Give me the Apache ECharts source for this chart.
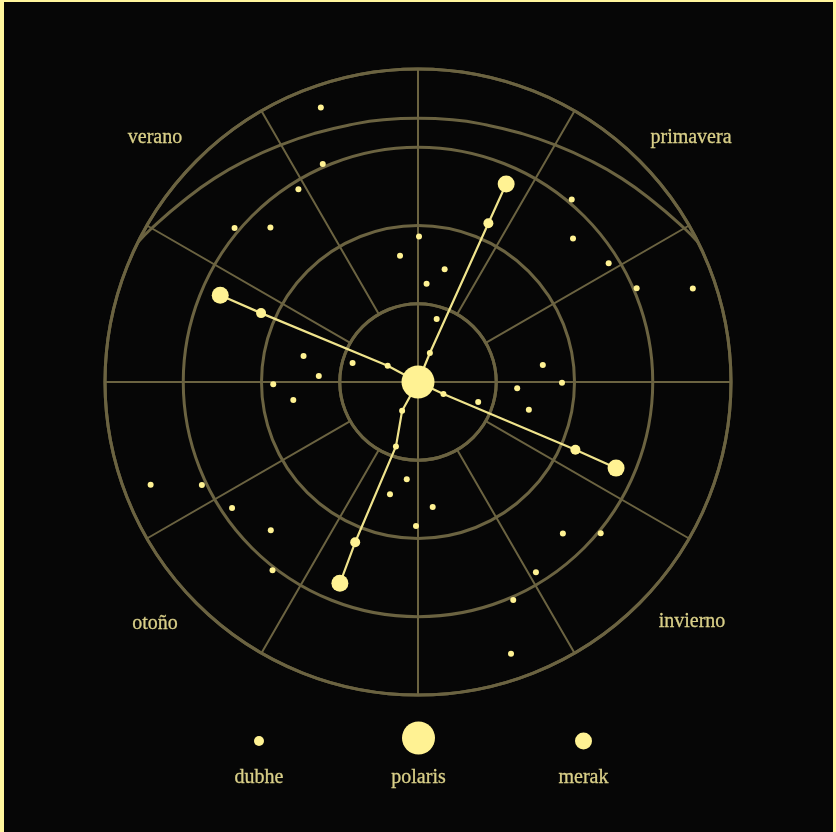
<!DOCTYPE html>
<html>
<head>
<meta charset="utf-8">
<script src="https://cdn.jsdelivr.net/npm/echarts@6/dist/echarts.min.js"></script>
<style>
html,body{margin:0;padding:0;background:#060606;}
#c{width:836px;height:832px;}
#frame{position:fixed;left:0;top:0;width:836px;height:832px;box-sizing:border-box;border-style:solid;border-color:#fff59d;border-width:2px 3px 0 4px;pointer-events:none;}
</style>
</head>
<body>
<div id="c"></div>
<div id="frame"></div>
<script>
// ---- data: [radius, angle in degrees (0 = east, counter-clockwise)] ----
const seasons = ['primavera', 'verano', 'otoño', 'invierno'];
const legendNames = ['dubhe', 'polaris', 'merak'];

const dubheStars = [
  [3.72, 109.5], [3.04, 113.6], [2.90, 121.8], [3.06, 140.0], [2.73, 133.7],
  [1.86, 89.6], [1.63, 98.1], [1.26, 85.0], [1.50, 167.2], [0.87, 163.9],
  [1.27, 176.5], [1.85, 180.9], [3.05, 49.9], [2.70, 42.8], [1.48, 76.7],
  [2.87, 31.9], [3.04, 23.2], [3.71, 18.8], [0.84, 73.5], [1.61, 7.8],
  [1.84, 359.7], [1.27, 356.4], [1.61, 188.2], [1.25, 263.4], [1.48, 256.0],
  [1.84, 269.2], [3.66, 201.0], [3.06, 205.5], [2.87, 214.1], [2.67, 225.2],
  [3.04, 232.3], [0.81, 341.7], [1.46, 346.0], [1.61, 276.7], [2.68, 313.7],
  [3.03, 320.4], [2.86, 301.8], [3.04, 293.6], [3.67, 288.9]
];

const polarisStar = [[0, 0]];

const merakArmA = [[0, 66], [0.40, 67.7], [2.22, 66.1], [2.77, 66.0]];
const merakArmB = [[0, 156], [0.44, 151.7], [2.19, 156.3], [2.76, 156.3]];
const merakArmC = [[0, 336], [0.36, 334.6], [2.19, 336.7], [2.76, 336.5]];
const merakArmD = [[0, 249], [0.42, 241.1], [0.87, 251.1], [2.20, 248.6], [2.76, 248.8]];

const horizonCurve = [
  [4.00, 26.5], [3.93, 30], [3.79, 37.5], [3.68, 45], [3.58, 52.5], [3.50, 60],
  [3.44, 67.5], [3.40, 75], [3.38, 82.5], [3.37, 90], [3.38, 97.5], [3.40, 105],
  [3.44, 112.5], [3.50, 120], [3.58, 127.5], [3.68, 135], [3.79, 142.5],
  [3.93, 150], [4.00, 153.5]
];

// ---- styles ----
const STAR = '#fff293';
const ARM = '#efe38c';
const GRID = '#6b6341';
const TEXT = '#d9cf88';
const FONT = '"Liberation Serif", "DejaVu Serif", serif';
const CX = 418, CY = 382, R = 313;

const chart = echarts.init(document.getElementById('c'));

function armSeries(arm) {
  return {
    type: 'line', name: 'merak', coordinateSystem: 'polar', polarIndex: 0,
    symbol: 'circle', showSymbol: true, showAllSymbol: true,
    data: arm.map((p, i) => ({
      value: p,
      symbolSize: i === 0 ? 0 : (i === arm.length - 1 ? 17 : (i === arm.length - 2 ? 10 : 6))
    })),
    lineStyle: { color: ARM, width: 2.2 },
    itemStyle: { color: STAR, opacity: 1 },
    emphasis: { disabled: true },
    z: 3
  };
}

function legendBox(name, size, cx, cy) {
  return {
    data: [{ name: name, icon: 'circle' }],
    left: cx - size / 2, top: cy - size / 2,
    itemWidth: size, itemHeight: size, itemGap: 0, padding: 0,
    formatter: () => '',
    textStyle: { fontSize: 1 },
    itemStyle: { color: STAR, opacity: 1 },
    inactiveColor: '#444'
  };
}

const labelPos = [[691, 138], [155, 138], [155, 624], [692, 622]];
const legendPos = [[259, 741, 10], [418.5, 738, 33], [583.5, 741, 17]];

const option = {
  backgroundColor: '#060606',
  animation: false,
  polar: [
    { center: [CX, CY], radius: [0, R] },
    { center: [CX, CY], radius: [R / 4, R] }
  ],
  angleAxis: [
    {
      polarIndex: 0, type: 'value', min: 0, max: 360, interval: 90,
      startAngle: 0, clockwise: false,
      axisLine: { show: false }, axisTick: { show: false }, axisLabel: { show: false },
      splitLine: { show: true, lineStyle: { color: GRID, width: 2 } }
    },
    {
      polarIndex: 1, type: 'value', min: 0, max: 360, interval: 30,
      startAngle: 0, clockwise: false,
      axisLine: { show: true, lineStyle: { color: GRID, width: 3 } },
      axisTick: { show: false }, axisLabel: { show: false },
      splitLine: { show: true, lineStyle: { color: GRID, width: 2 } }
    }
  ],
  radiusAxis: [
    {
      polarIndex: 0, type: 'value', min: 0, max: 4, interval: 1,
      axisLine: { show: false }, axisTick: { show: false }, axisLabel: { show: false },
      splitLine: { show: true, lineStyle: { color: GRID, width: 3 } }
    },
    {
      polarIndex: 1, type: 'value', min: 1, max: 4, interval: 1,
      axisLine: { show: false }, axisTick: { show: false }, axisLabel: { show: false },
      splitLine: { show: false }
    }
  ],
  legend: legendPos.map((p, i) => legendBox(legendNames[i], p[2], p[0], p[1])),
  graphic: [
    ...seasons.map((s, i) => ({
      type: 'text', x: labelPos[i][0], y: labelPos[i][1], silent: true,
      style: { text: s, fill: TEXT, font: '20px ' + FONT, textAlign: 'center', textVerticalAlign: 'middle', stroke: TEXT, lineWidth: 0.3 }
    })),
    ...legendNames.map((s, i) => ({
      type: 'text', x: legendPos[i][0], y: 778, silent: true,
      style: { text: s, fill: TEXT, font: '20px ' + FONT, textAlign: 'center', textVerticalAlign: 'middle', stroke: TEXT, lineWidth: 0.3 }
    }))
  ],
  series: [
    {
      type: 'line', name: 'horizon', coordinateSystem: 'polar', polarIndex: 0,
      data: horizonCurve, smooth: true, showSymbol: false, silent: true,
      lineStyle: { color: GRID, width: 3 }, z: 1
    },
    {
      type: 'scatter', name: 'dubhe', coordinateSystem: 'polar', polarIndex: 0,
      data: dubheStars, symbolSize: 6, itemStyle: { color: STAR, opacity: 1 }, z: 3
    },
    armSeries(merakArmA), armSeries(merakArmB), armSeries(merakArmC), armSeries(merakArmD),
    {
      type: 'scatter', name: 'polaris', coordinateSystem: 'polar', polarIndex: 0,
      data: polarisStar, symbolSize: 33, itemStyle: { color: STAR, opacity: 1 }, z: 4
    }
  ]
};

chart.setOption(option);
</script>
</body>
</html>
